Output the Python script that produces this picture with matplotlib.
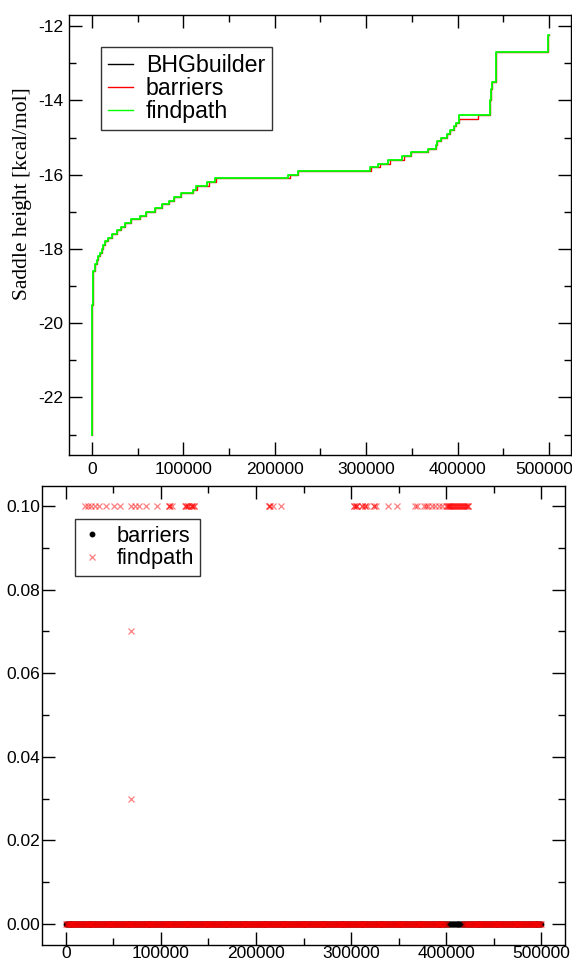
import numpy as np
import matplotlib
matplotlib.use("Agg")
import matplotlib.pyplot as plt
from matplotlib.ticker import MultipleLocator, FuncFormatter, FormatStrFormatter
from matplotlib.lines import Line2D

# ---------------- data: top panel (sorted saddle heights, step curves) ----------------
findpath_x = [0, 150, 300, 500, 800, 1100, 3300, 5100, 6900, 8700, 10600, 12400, 14200,
              17200, 21500, 27000, 31700, 36100, 42300, 52500, 58700, 68900, 76800, 84200,
              90000, 97000, 110700, 113700, 126000, 134400, 215000, 225500, 303900, 313000,
              324300, 339600, 349400, 368000, 376000, 377500, 382000, 388600, 392100, 395700,
              398500, 401100, 435000, 436500, 438000, 441600, 498900, 500000]
findpath_y = [-23.0, -21.5, -20.3, -19.5, -19.0, -18.6, -18.4, -18.3, -18.2, -18.1, -18.0,
              -17.9, -17.8, -17.7, -17.6, -17.5, -17.4, -17.3, -17.2, -17.1, -17.0, -16.9,
              -16.8, -16.7, -16.6, -16.5, -16.4, -16.3, -16.2, -16.1, -16.0, -15.9, -15.8,
              -15.7, -15.6, -15.5, -15.4, -15.3, -15.2, -15.1, -15.0, -14.9, -14.8, -14.7,
              -14.6, -14.4, -14.0, -13.7, -13.5, -12.7, -12.25, -12.25]

barriers_x = [0, 150, 300, 500, 800, 1100, 3300, 5100, 6900, 8700, 10600, 12400, 14200,
              17200, 21500, 27000, 31700, 36100, 42300, 52500, 58700, 68900, 76800, 84200,
              90000, 97000, 110700, 114800, 127600, 135800, 216300, 225500, 305500, 314700,
              326300, 341500, 349400, 368000, 376000, 377500, 382000, 388600, 392100, 395700,
              398500, 401100, 422000, 435000, 436500, 438000, 441600, 498900, 500000]
barriers_y = [-23.0, -21.5, -20.3, -19.5, -19.0, -18.6, -18.4, -18.3, -18.2, -18.1, -18.0,
              -17.9, -17.8, -17.7, -17.6, -17.5, -17.4, -17.3, -17.2, -17.1, -17.0, -16.9,
              -16.8, -16.7, -16.6, -16.5, -16.4, -16.3, -16.2, -16.1, -16.0, -15.9, -15.8,
              -15.7, -15.6, -15.5, -15.4, -15.3, -15.2, -15.1, -15.0, -14.9, -14.8, -14.7,
              -14.6, -14.5, -14.4, -14.0, -13.7, -13.5, -12.7, -12.25, -12.25]

bhg_x = [0, 150, 300, 500, 800, 1100, 3300, 5100, 6900, 8700, 10600, 12400, 14200,
         17200, 21500, 27000, 31700, 36100, 42300, 52500, 58700, 68900, 76800, 84200,
         90000, 97000, 110700, 114800, 127600, 135800, 216300, 225500, 305500, 314700,
         326300, 341500, 349400, 368000, 376000, 377500, 382000, 388600, 392100, 395700,
         398500, 401100, 422000, 435000, 436500, 438000, 441600, 498900, 500000]
bhg_y = [-23.0, -21.5, -20.3, -19.5, -19.0, -18.6, -18.4, -18.3, -18.2, -18.1, -18.0,
         -17.9, -17.8, -17.7, -17.6, -17.5, -17.4, -17.3, -17.2, -17.1, -17.0, -16.9,
         -16.8, -16.7, -16.6, -16.5, -16.4, -16.3, -16.2, -16.1, -16.0, -15.9, -15.8,
         -15.7, -15.6, -15.5, -15.4, -15.3, -15.2, -15.1, -15.0, -14.9, -14.8, -14.7,
         -14.6, -14.5, -14.4, -14.0, -13.7, -13.5, -12.7, -12.25, -12.25]

# ---------------- data: bottom panel (differences) ----------------
findpath_diff_x = [20000, 23500, 27000, 30500, 34700, 42100, 50800, 56800, 68100, 72600,
                   77200, 84200, 95500, 108200, 108700, 109200, 111300, 125700, 126000, 126400,
                   128500, 128900, 132000, 132300, 132600, 134800, 135200, 213700, 214000,
                   214300, 218200, 226000, 303000, 303300, 305100, 305400, 306600, 311700,
                   312000, 314500, 314800, 316500, 324000, 324300, 326200, 339300, 348800,
                   367400, 369100, 376800, 378600, 381400, 384900, 388400, 393000, 395400,
                   399500, 400500, 401500, 402500, 403500, 404500, 405500, 406500, 407500,
                   408500, 409500, 410500, 411500, 412500, 413500, 414500, 415500, 416500,
                   417500, 418500, 419500, 420500, 421500, 422500, 423500,
                   68100, 68100]
findpath_diff_y = [0.10] * 81 + [0.07, 0.03]

n_structures = 500000
index_step = 1000
findpath_zero_segments = [(0, 401000), (419000, 500500)]
barriers_zero_segments = [(0, 500500)]

# ---------------- figure ----------------
plt.rcParams['font.family'] = ['Liberation Sans', 'DejaVu Sans']
fig = plt.figure(figsize=(5.72, 9.61), dpi=100)

ax1 = fig.add_axes([69/572, 1-455/961, (571-69)/572, (455-15)/961])
ax2 = fig.add_axes([42/572, 1-945/961, (565-42)/572, (945-486)/961])

ax1.step(bhg_x, bhg_y, where='post', color='black', lw=0.8, zorder=2)
ax1.step(barriers_x, barriers_y, where='post', color='#ff0000', lw=0.9, zorder=3)
ax1.step(findpath_x, findpath_y, where='post', color='#00ff00', lw=1.3, zorder=4)

ax1.set_xlim(-25000, 524000)
ax1.set_ylim(-23.55, -11.7)
ax1.xaxis.set_major_locator(MultipleLocator(100000))
ax1.xaxis.set_minor_locator(MultipleLocator(50000))
ax1.yaxis.set_major_locator(MultipleLocator(2))
ax1.yaxis.set_minor_locator(MultipleLocator(1))
# the last label (500000) sits at the figure edge; it is drawn separately, nudged inward
ax1.xaxis.set_major_formatter(FuncFormatter(
    lambda v, p: "" if int(round(v)) == 500000 else f"{int(round(v))}"))
ax1.yaxis.set_major_formatter(FuncFormatter(lambda v, p: f"{int(round(v))}"))
ax1.annotate("500000", xy=(500000, 0), xycoords=('data', 'axes fraction'),
             xytext=(-3.5, -5), textcoords='offset points', ha='center', va='top',
             fontsize=12.5, annotation_clip=False)

fig.text(22.5/572, 1-194/961, "Saddle height [kcal/mol]", rotation=90,
         ha='center', va='center', fontsize=15.5, family=['Liberation Serif'])

handles1 = [Line2D([], [], color='black', lw=1.0),
            Line2D([], [], color='#ff0000', lw=1.0),
            Line2D([], [], color='#00ff00', lw=1.0)]
leg1 = ax1.legend(handles1, ['BHGbuilder', 'barriers', 'findpath'], loc='upper left',
                  bbox_to_anchor=(100.7/572, 1-47/961), bbox_transform=fig.transFigure,
                  borderaxespad=0, fontsize=16.7, frameon=True, fancybox=False,
                  handlelength=1.08, handletextpad=0.55, labelspacing=0.0,
                  borderpad=0.31)
leg1.get_frame().set_edgecolor('black')
leg1.get_frame().set_linewidth(1.0)

# bottom panel
for a, b in barriers_zero_segments:
    xs = np.arange(a, b, index_step)
    ax2.plot(xs, np.zeros_like(xs, dtype=float), linestyle='none', marker='o', ms=3.2,
             color='black', zorder=2)
for a, b in findpath_zero_segments:
    xs = np.arange(a, b, index_step)
    ax2.plot(xs, np.zeros_like(xs, dtype=float), linestyle='none', marker='x', ms=5,
             mew=0.9, color='#ff0000', alpha=0.6, zorder=3)
ax2.plot(findpath_diff_x, findpath_diff_y, linestyle='none', marker='x', ms=5, mew=0.9,
         color='#ff0000', alpha=0.5, zorder=3)

ax2.set_xlim(-25000, 525000)
ax2.set_ylim(-0.005, 0.1048)
ax2.xaxis.set_major_locator(MultipleLocator(100000))
ax2.xaxis.set_minor_locator(MultipleLocator(50000))
ax2.yaxis.set_major_locator(MultipleLocator(0.02))
ax2.yaxis.set_minor_locator(MultipleLocator(0.01))
ax2.xaxis.set_major_formatter(FuncFormatter(lambda v, p: f"{int(round(v))}"))
ax2.yaxis.set_major_formatter(FormatStrFormatter('%.2f'))

handles2 = [Line2D([], [], linestyle='none', marker='o', ms=3.2, color='black'),
            Line2D([], [], linestyle='none', marker='x', ms=5, mew=0.9, color='#ff0000', alpha=0.5)]
leg2 = ax2.legend(handles2, ['barriers', 'findpath'], loc='upper left',
                  bbox_to_anchor=(75/572, 1-519/961), bbox_transform=fig.transFigure,
                  borderaxespad=0, fontsize=15.7, frameon=True, fancybox=False,
                  handlelength=1.0, handletextpad=0.6, labelspacing=0.08,
                  borderpad=0.3)
leg2.get_frame().set_edgecolor('black')
leg2.get_frame().set_linewidth(1.0)

for ax in (ax1, ax2):
    for s in ax.spines.values():
        s.set_linewidth(1.0)
    ax.tick_params(which='both', direction='in', top=True, right=True, width=1.0,
                   labelsize=12.5)
    ax.tick_params(which='major', length=9.5)
    ax.tick_params(which='minor', length=5)
ax1.tick_params(axis='x', which='major', pad=5)
ax2.tick_params(axis='x', which='major', pad=1)
ax1.tick_params(axis='y', which='major', pad=4)
ax2.tick_params(axis='y', which='major', pad=1)

fig.savefig('out.png', dpi=100)
